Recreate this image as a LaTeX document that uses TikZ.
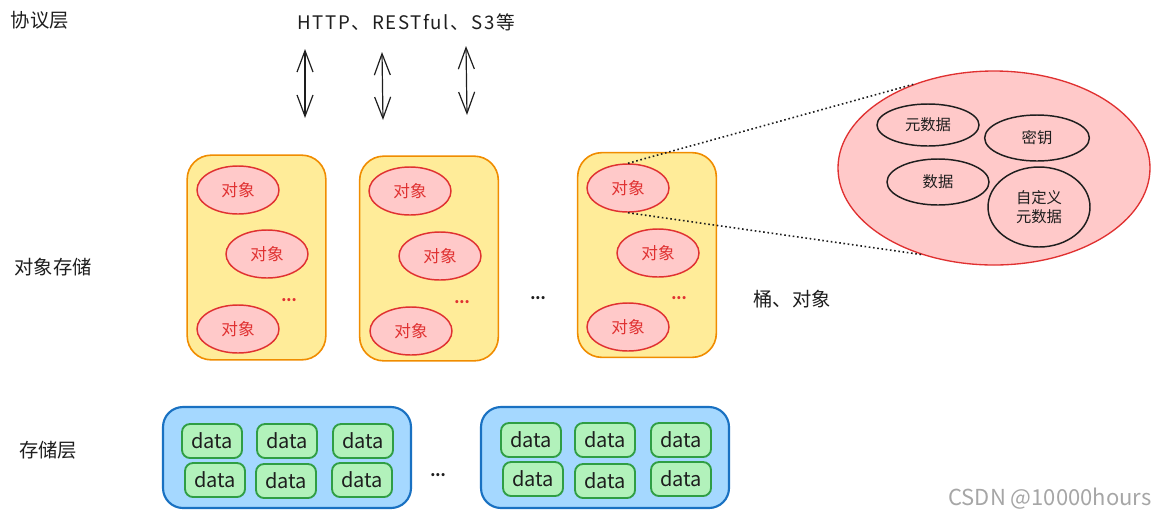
\documentclass[tikz,border=0pt]{standalone}
\usepackage{fontspec}
\setmainfont{Noto Sans CJK SC}
\usetikzlibrary{arrows.meta,shapes.geometric}
\definecolor{ylf}{HTML}{FFEC99}
\definecolor{yls}{HTML}{F08C00}
\definecolor{pkf}{HTML}{FFC9C9}
\definecolor{pks}{HTML}{E03131}
\definecolor{blf}{HTML}{A5D8FF}
\definecolor{bls}{HTML}{1971C2}
\definecolor{grf}{HTML}{B2F2BB}
\definecolor{grs}{HTML}{2F9E44}
\definecolor{txt}{HTML}{1E1E1E}
\begin{document}
\begin{tikzpicture}[x=0.75pt,y=-0.75pt,
  bucket/.style={draw=yls, fill=ylf, line width=1.2pt, rounded corners=18pt, minimum width=104pt, minimum height=153.5pt},
  obj/.style={ellipse, draw=pks, fill=pkf, line width=1.1pt, minimum width=61.5pt, minimum height=36pt, inner sep=0pt, text=pks, font=\fontsize{12.5}{14}\selectfont},
  attr/.style={ellipse, draw=txt, line width=1.1pt, inner sep=0pt, text=txt, align=center, font=\fontsize{11.5}{14}\selectfont},
  big/.style={ellipse, draw=pks, fill=pkf, line width=1pt, inner sep=0pt},
  store/.style={draw=bls, fill=blf, line width=1.6pt, rounded corners=15pt, minimum width=186pt, minimum height=75.75pt},
  cell/.style={draw=grs, fill=grf, line width=1.4pt, rounded corners=6pt, minimum width=45pt, minimum height=25.5pt, inner sep=0pt, text=txt, font=\fontsize{15}{17}\selectfont},
  lbl/.style={text=txt, font=\fontsize{14.5}{17}\selectfont},
  reddots/.style={text=pks, font=\bfseries\fontsize{11}{13}\selectfont},
  blackdots/.style={text=txt, font=\bfseries\fontsize{11}{13}\selectfont},
  dbl/.style={arrows={Straight Barb[length=16pt,width=12pt]-Straight Barb[length=16pt,width=12pt]}, line width=0.9pt, draw=txt},
  dotline/.style={draw=txt, line width=1.2pt, dotted}
]
\useasboundingbox (0,0) rectangle (1157,519);

% labels
\node[lbl] (lproto) at (40,20) {协议层};
\node[text=txt, font=\fontsize{14}{17}\selectfont\addfontfeature{LetterSpace=9}] (proto) at (406,22) {HTTP、RESTful、S3等};
\node[lbl] (lobj) at (53,267) {对象存储};
\node[lbl] (lstore) at (48,450) {存储层};
\node[lbl] (lbo) at (792,299) {桶、对象};

% arrows
\coordinate (a1t) at (305,49);
\coordinate (a1b) at (305,118);
\coordinate (a2t) at (382,52);
\coordinate (a2b) at (383,120);
\coordinate (a3t) at (466,46);
\coordinate (a3b) at (467,115);
\draw[dbl] (a1t) -- (a1b);
\draw[dbl] (a2t) -- (a2b);
\draw[dbl] (a3t) -- (a3b);

% buckets
\node[bucket] (b1) at (256.5,257.5) {};
\node[bucket] (b2) at (429,258.5) {};
\node[bucket] (b3) at (647,255) {};

\node[obj] (e11) at (238,190) {对象};
\node[obj] (e12) at (267,254) {对象};
\node[obj] (e13) at (238,329) {对象};
\node[reddots] (d1) at (289,300) {...};

\node[obj] (e21) at (410,191) {对象};
\node[obj] (e22) at (440,256) {对象};
\node[obj] (e23) at (411,331) {对象};
\node[reddots] (d2) at (462,302) {...};

\node[obj] (e31) at (628,188) {对象};
\node[obj] (e32) at (658,253) {对象};
\node[obj] (e33) at (628,327) {对象};
\node[reddots] (d3) at (679,298) {...};

\node[blackdots] (dm) at (538,298) {...};

% big ellipse
\node[big, minimum width=234pt, minimum height=145.5pt] (be) at (994,168) {};
\node[attr, minimum width=76.5pt, minimum height=31.5pt] (meta) at (928,125) {元数据};
\node[attr, minimum width=78.5pt, minimum height=34.5pt] (key) at (1037,138) {密钥};
\node[attr, minimum width=76.5pt, minimum height=34.5pt] (data) at (938,182) {数据};
\node[attr, minimum width=76.5pt, minimum height=60pt] (cmeta) at (1039,207) {自定义\\元数据};

\draw[dotline] (e31.north) -- (be.134);
\draw[dotline] (e31.south) -- (be.230);

% storage layer
\node[store] (s1) at (287,457.5) {};
\node[store] (s2) at (605,457.5) {};

\node[cell] (c11) at (212,441) {data};
\node[cell] (c12) at (287,441) {data};
\node[cell] (c13) at (363,441) {data};
\node[cell] (c14) at (215,480) {data};
\node[cell] (c15) at (286,481) {data};
\node[cell] (c16) at (362,480) {data};

\node[cell] (c21) at (531,440) {data};
\node[cell] (c22) at (605,440) {data};
\node[cell] (c23) at (681,440) {data};
\node[cell] (c24) at (533,479) {data};
\node[cell] (c25) at (605,481) {data};
\node[cell] (c26) at (681,479) {data};

\node[blackdots] (ds) at (438,475) {...};

% watermark
\node[text=black!35, font=\fontsize{16.5}{19}\selectfont] (wm) at (1050,499) {CSDN @10000hours};
\end{tikzpicture}
\end{document}
